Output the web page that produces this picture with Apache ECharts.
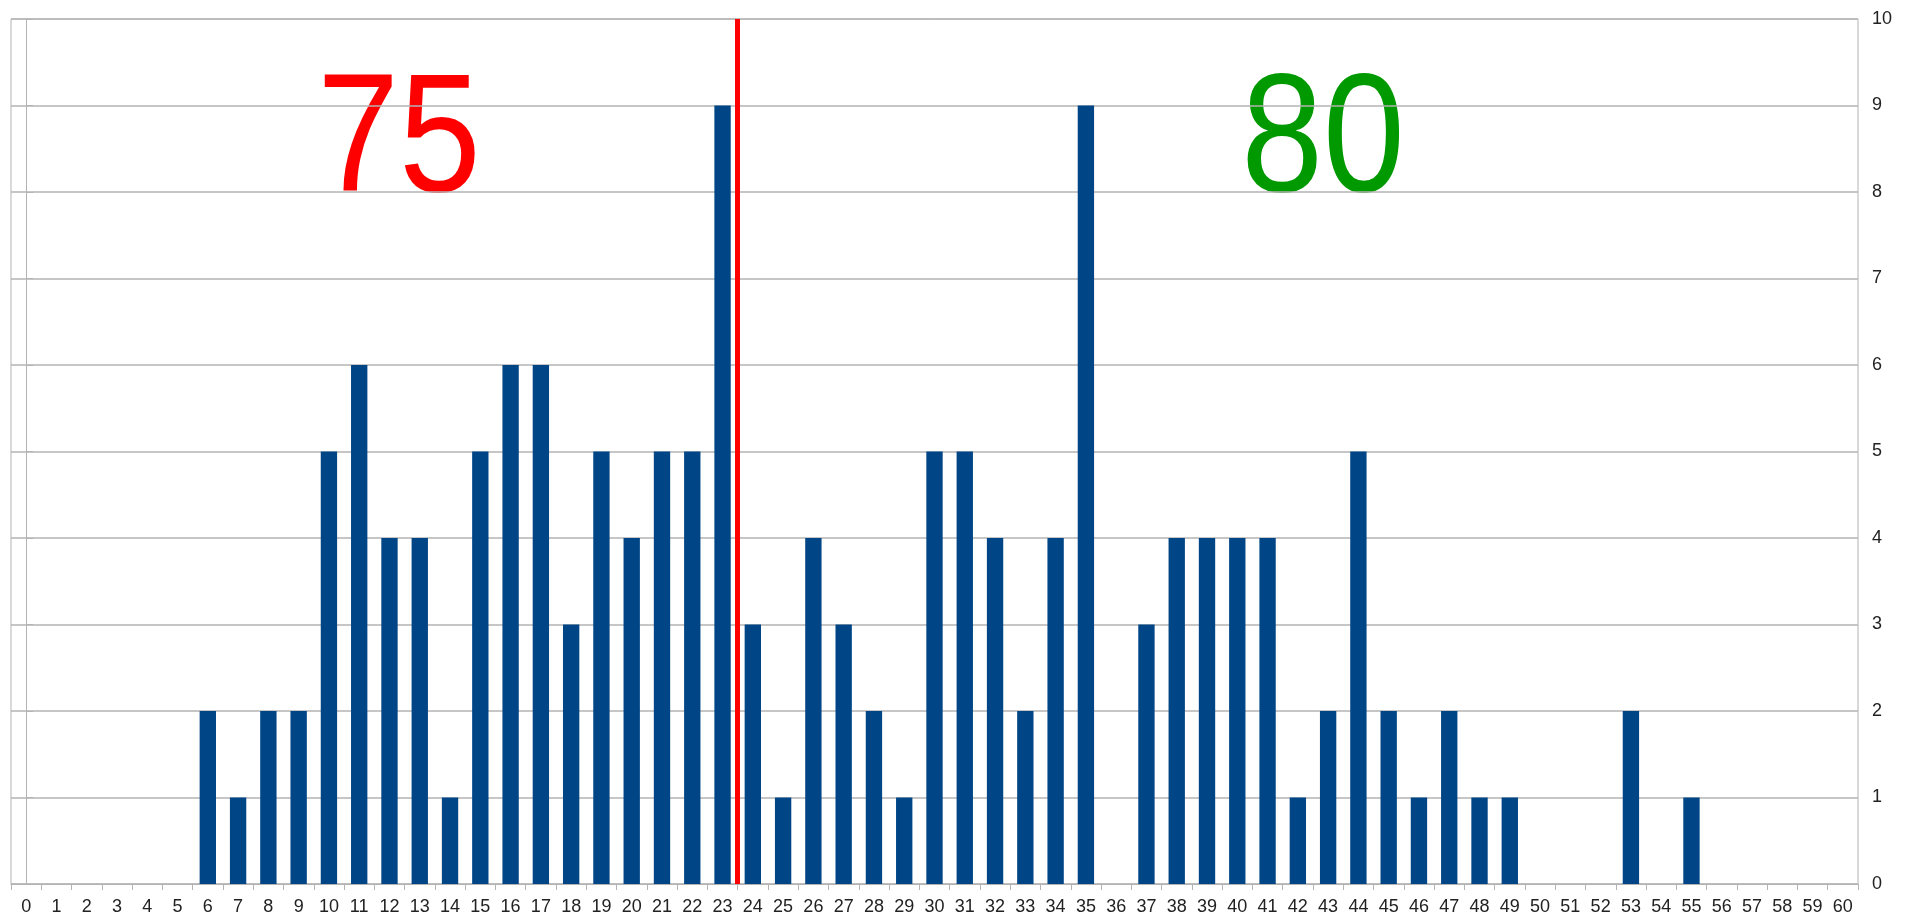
<!DOCTYPE html>
<html>
<head>
<meta charset="utf-8">
<script src="https://cdn.jsdelivr.net/npm/echarts@6/dist/echarts.min.js"></script>
<style>
html,body{margin:0;padding:0;background:#fff;}
#chart{width:1911px;height:921px;}
</style>
</head>
<body>
<div id="chart"></div>
<script>
// categories 0..60
var categories = ['0','1','2','3','4','5','6','7','8','9','10','11','12','13','14','15','16','17','18','19','20',
    '21','22','23','24','25','26','27','28','29','30','31','32','33','34','35','36','37','38','39','40',
    '41','42','43','44','45','46','47','48','49','50','51','52','53','54','55','56','57','58','59','60'];
var counts = [0,0,0,0,0,0,2,1,2,2,5,6,4,4,1,5,6,6,3,5,4,
    5,5,9,3,1,4,3,2,1,5,5,4,2,4,9,0,3,4,4,4,
    4,1,2,5,2,1,2,1,1,0,0,0,2,0,1,0,0,0,0,0];
var splitAt = 23.5;   // red line between 23 and 24
var leftLabel = '75';
var rightLabel = '80';

var myChart = echarts.init(document.getElementById('chart'));

var option = {
    animation: false,
    backgroundColor: '#fff',
    grid: {
        left: 11,
        right: 53,
        top: 19,
        bottom: 37,
        show: true,
        borderColor: '#b3b3b3',
        borderWidth: 1
    },
    xAxis: [
        {
            type: 'category',
            data: categories,
            boundaryGap: true,
            axisLine: {lineStyle: {color: '#b3b3b3', width: 1}},
            axisTick: {show: true, alignWithLabel: false, length: 6, lineStyle: {color: '#b3b3b3'}},
            axisLabel: {color: '#222', fontSize: 18, fontFamily: 'Liberation Sans', margin: 14, interval: 0},
            splitLine: {show: false}
        },
        {
            type: 'value',
            min: -0.5,
            max: 60.5,
            show: false
        }
    ],
    yAxis: {
        type: 'value',
        position: 'right',
        min: 0,
        max: 10,
        interval: 1,
        axisLine: {show: true, lineStyle: {color: '#b3b3b3', width: 1}},
        axisTick: {show: true, length: 7, lineStyle: {color: '#b3b3b3'}},
        axisLabel: {color: '#222', fontSize: 18, fontFamily: 'Liberation Sans', margin: 14},
        splitLine: {show: true, lineStyle: {color: '#b3b3b3', width: 1.5}}
    },
    series: [
        {
            type: 'bar',
            data: counts,
            barWidth: '54%',
            itemStyle: {color: '#004586', borderWidth: 0}
        },
        {
            type: 'line',
            xAxisIndex: 1,
            data: [],
            markLine: {
                silent: true,
                symbol: 'none',
                label: {show: false},
                lineStyle: {color: '#ff0000', width: 5, type: 'solid'},
                data: [{xAxis: splitAt}]
            }
        }
    ],
    graphic: [
        {
            type: 'text',
            x: 399,
            y: 229,
            scaleX: 0.87,
            style: {
                text: leftLabel,
                fill: '#ff0000',
                font: '169px "Liberation Sans"',
                textAlign: 'center',
                textVerticalAlign: 'bottom'
            }
        },
        {
            type: 'text',
            x: 1323,
            y: 229,
            scaleX: 0.87,
            style: {
                text: rightLabel,
                fill: '#009900',
                font: '169px "Liberation Sans"',
                textAlign: 'center',
                textVerticalAlign: 'bottom'
            }
        }
    ]
};

myChart.setOption(option);
</script>
</body>
</html>
